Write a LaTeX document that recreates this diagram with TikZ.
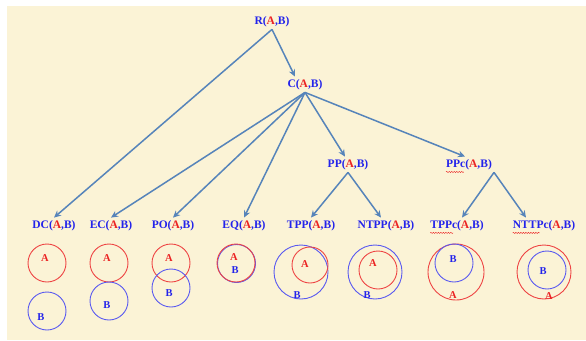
\documentclass[tikz,border=0pt]{standalone}
\usepackage{fontspec}
\setmainfont{Liberation Serif}
\usetikzlibrary{arrows.meta,decorations.pathmorphing}
\definecolor{parch}{RGB}{251,243,214}
\definecolor{lnblue}{RGB}{86,132,186}
\definecolor{txblue}{RGB}{35,35,235}
\definecolor{txred}{RGB}{235,35,35}
\newcommand{\rel}[1]{#1(\textcolor{txred}{A},B)}
\begin{document}
\begin{tikzpicture}[x=1pt, y=-1pt,
    every node/.style={font=\bfseries\fontsize{11.5}{12}\selectfont, text=txblue, inner sep=1pt},
    arr/.style={draw=lnblue, line width=1.5pt, -{Stealth[length=7pt, width=6.5pt]}},
    ca/.style={draw=txred!85, line width=0.9pt},
    cb/.style={draw=txblue!75, line width=0.9pt},
    la/.style={text=txred, font=\bfseries\fontsize{10.5}{11}\selectfont},
    lb/.style={text=txblue, font=\bfseries\fontsize{10.5}{11}\selectfont},
    wavy/.style={draw=txred, line width=0.4pt, decorate, decoration={snake, amplitude=0.6pt, segment length=2.5pt}}]
    \useasboundingbox (0,0) rectangle (586,340);
    \fill[parch] (7,6) rectangle (586,340);
    % tree
    \node (R) at (272,22) {\rel{R}};
    \node (C) at (305,85) {\rel{C}};
    \node (PP) at (348,165) {\rel{PP}};
    \node (PPc) at (469,165) {\rel{PPc}};
    \node (DC) at (54,226) {\rel{DC}};
    \node (EC) at (111,226) {\rel{EC}};
    \node (PO) at (173,226) {\rel{PO}};
    \node (EQ) at (244,226) {\rel{EQ}};
    \node (TPP) at (311,226) {\rel{TPP}};
    \node (NTPP) at (386,226) {\rel{NTPP}};
    \node (TPPc) at (457,226) {\rel{TPPc}};
    \node (NTTPc) at (544,226) {\rel{NTTPc}};
    \coordinate (Ra) at ([yshift=-1pt]R.south);
    \coordinate (Ca) at ([yshift=-1pt]C.south);
    \coordinate (PPa) at ([yshift=-1pt]PP.south);
    \coordinate (PPca) at ([xshift=25pt, yshift=-1pt]PPc.south);
    \draw[arr] (Ra) -- ([xshift=-10pt, yshift=2pt]C.north);
    \draw[arr] (Ra) -- ([yshift=2pt]DC.north);
    \draw[arr] (Ca) -- ([yshift=2pt]EC.north);
    \draw[arr] (Ca) -- ([yshift=2pt]PO.north);
    \draw[arr] (Ca) -- ([yshift=2pt]EQ.north);
    \draw[arr] (Ca) -- ([xshift=-3pt, yshift=2pt]PP.north);
    \draw[arr] (Ca) -- ([xshift=-4pt, yshift=2pt]PPc.north);
    \draw[arr] (PPa) -- ([yshift=2pt]TPP.north);
    \draw[arr] (PPa) -- ([xshift=-5pt, yshift=2pt]NTPP.north);
    \draw[arr] (PPca) -- ([xshift=5pt, yshift=2pt]TPPc.north);
    \draw[arr] (PPca) -- ([xshift=-18pt, yshift=2pt]NTTPc.north);
    % spell-check marks
    \draw[wavy] ([xshift=1pt, yshift=-0.5pt]PPc.south west) -- ++(18,0);
    \draw[wavy] ([xshift=1pt, yshift=-0.5pt]TPPc.south west) -- ++(23,0);
    \draw[wavy] ([xshift=1pt, yshift=-0.5pt]NTTPc.south west) -- ++(27,0);
    % DC
    \draw[ca] (47,263) circle[radius=19pt];
    \draw[cb] (47,311) circle[radius=19pt];
    \node[la] (dcA) at (45,258) {A};
    \node[lb] (dcB) at (41,317) {B};
    % EC
    \draw[ca] (109,263) circle[radius=19pt];
    \draw[cb] (109,301) circle[radius=19pt];
    \node[la] (ecA) at (107,258) {A};
    \node[lb] (ecB) at (107,305) {B};
    % PO
    \draw[ca] (171,263) circle[radius=19pt];
    \draw[cb] (171,288) circle[radius=19pt];
    \node[la] (poA) at (169,258) {A};
    \node[lb] (poB) at (169,293) {B};
    % EQ
    \draw[cb] (236.5,263.5) circle[radius=19pt];
    \draw[ca] (236,263) circle[radius=19pt];
    \node[la] (eqA) at (234,257) {A};
    \node[lb] (eqB) at (235,270) {B};
    % TPP
    \draw[cb] (301,272) circle[radius=27pt];
    \draw[ca] (310,265) circle[radius=18pt];
    \node[la] (tppA) at (305,264) {A};
    \node[lb] (tppB) at (297,295) {B};
    % NTPP
    \draw[cb] (375,272) circle[radius=27pt];
    \draw[ca] (378,270) circle[radius=19pt];
    \node[la] (ntppA) at (373,263) {A};
    \node[lb] (ntppB) at (367,295) {B};
    % TPPc
    \draw[ca] (456,272) circle[radius=28pt];
    \draw[cb] (454,263) circle[radius=19pt];
    \node[lb] (tppcB) at (453,259) {B};
    \node[la] (tppcA) at (453,295) {A};
    % NTTPc
    \draw[ca] (544,272) circle[radius=27pt];
    \draw[cb] (547,270) circle[radius=19pt];
    \node[lb] (nttpcB) at (543,271) {B};
    \node[la] (nttpcA) at (549,296) {A};
\end{tikzpicture}
\end{document}
